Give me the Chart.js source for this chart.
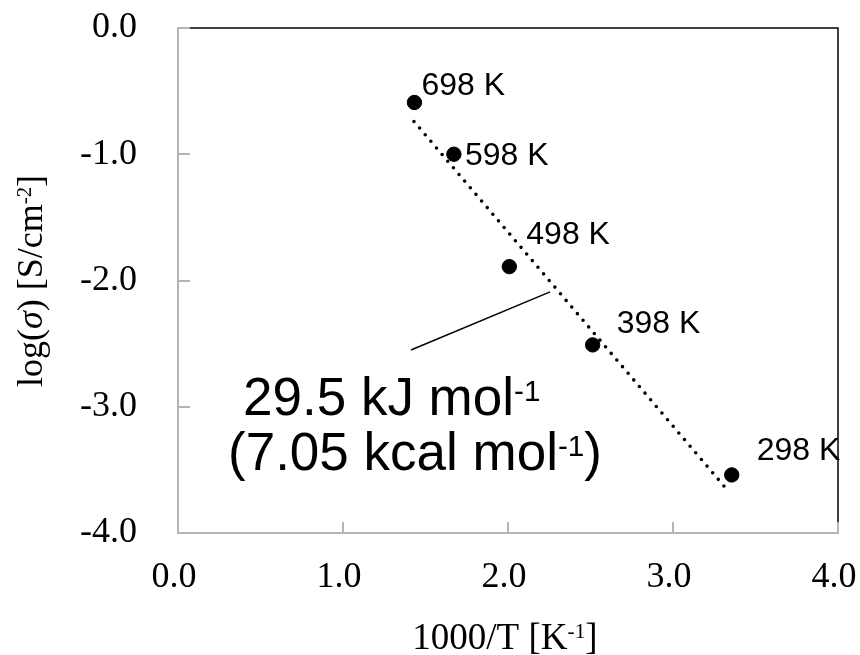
<!DOCTYPE html>
<html>
<head>
<meta charset="utf-8">
<script src="https://cdn.jsdelivr.net/npm/chart.js@4.4.0/dist/chart.umd.min.js"></script>
<style>
  html, body { margin: 0; padding: 0; background: #fff; }
</style>
</head>
<body>
<canvas id="arrheniusChart" width="860" height="655"></canvas>
<script>
// measured temperatures (K)
const temps = [698, 598, 498, 398, 298];
// 1000/T [K^-1]
const invTemp = [1.433, 1.672, 2.008, 2.513, 3.356];
// log(sigma)
const logSigma = [-0.59, -1.00, -1.89, -2.51, -3.54];
// dotted fit line, ends as drawn
const fitX = [1.43, 3.32];
const fitY = [-0.74, -3.645];
// thin pointer from the energy label to the fit line
const pointerX = [1.412, 2.255];
const pointerY = [-2.55, -2.09];
const xTicks = [0, 1, 2, 3, 4];
const yTicks = [0, -1, -2, -3, -4];

const pointLabels = temps.map(t => t + ' K');
// label position relative to its point, px (left, baseline)
const labelOffsets = [[7, -7], [11, 11], [17, -23], [24, -12], [25, -15]];

const SERIF = '"Liberation Serif", "Times New Roman", serif';
const SANS = '"Liberation Sans", Arial, sans-serif';
const AXIS_GRAY = '#b4b4b4';

// draw text made of parts, some of them superscript; returns width
function richText(ctx, parts, x, y, size, family, measureOnly, supScale, supRise) {
    supScale = supScale || 0.58;
    supRise = supRise || 0.3;
    let w = 0;
    parts.forEach(p => {
        const s = p.sup ? size * supScale : size;
        ctx.font = (p.italic ? 'italic ' : '') + s + 'px ' + family;
        if (!measureOnly) ctx.fillText(p.t, x + w, p.sup ? y - size * supRise : y);
        w += ctx.measureText(p.t).width;
    });
    return w;
}

const textPlugin = {
    id: 'textPlugin',
    beforeDatasetsDraw(chart) {
        const { ctx, chartArea: a, scales } = chart;
        ctx.save();
        // black frame on top and right
        ctx.strokeStyle = '#000';
        ctx.lineWidth = 1.5;
        ctx.beginPath();
        ctx.moveTo(a.left, a.top);
        ctx.lineTo(a.right, a.top);
        ctx.lineTo(a.right, a.bottom);
        ctx.stroke();
        // inward gray tick marks
        ctx.strokeStyle = AXIS_GRAY;
        ctx.lineWidth = 2;
        ctx.beginPath();
        yTicks.slice(0, 4).forEach(v => {
            const py = Math.round(scales.y.getPixelForValue(v));
            ctx.moveTo(a.left, py);
            ctx.lineTo(a.left + 12, py);
        });
        xTicks.slice(1).forEach(v => {
            const px = Math.round(scales.x.getPixelForValue(v));
            ctx.moveTo(px, a.bottom);
            ctx.lineTo(px, a.bottom - 11);
        });
        ctx.stroke();
        ctx.restore();
    },
    afterDraw(chart) {
        const { ctx, scales } = chart;
        ctx.save();
        ctx.fillStyle = '#000';
        ctx.textBaseline = 'alphabetic';
        ctx.textAlign = 'left';

        // point labels
        ctx.font = '32px ' + SANS;
        pointLabels.forEach((lbl, i) => {
            const px = scales.x.getPixelForValue(invTemp[i]);
            const py = scales.y.getPixelForValue(logSigma[i]);
            ctx.fillText(lbl, px + labelOffsets[i][0], py + labelOffsets[i][1]);
        });

        // activation energy note
        richText(ctx, [{ t: '29.5 kJ mol' }, { t: '-1', sup: true }], 243, 415, 53, SANS, false, 0.56, 0.27);
        richText(ctx, [{ t: '(7.05 kcal mol' }, { t: '-1', sup: true }, { t: ')' }], 228, 470, 53, SANS, false, 0.56, 0.27);

        // x axis title
        const xt = [{ t: '1000/T [K' }, { t: '-1', sup: true }, { t: ']' }];
        const xw = richText(ctx, xt, 0, 0, 37, SERIF, true);
        richText(ctx, xt, 505 - xw / 2, 649, 37, SERIF);

        // y axis title, rotated
        const yt = [{ t: 'log(' }, { t: 'σ', italic: true }, { t: ') [S/cm' }, { t: '-2', sup: true }, { t: ']' }];
        const yw = richText(ctx, yt, 0, 0, 36, SERIF, true);
        ctx.translate(42, 281);
        ctx.rotate(-Math.PI / 2);
        richText(ctx, yt, -yw / 2, 0, 36, SERIF);
        ctx.restore();
    }
};

new Chart(document.getElementById('arrheniusChart').getContext('2d'), {
    type: 'scatter',
    data: {
        datasets: [{
            label: 'conductivity',
            data: invTemp.map((x, i) => ({ x: x, y: logSigma[i] })),
            backgroundColor: '#000',
            borderColor: '#000',
            pointRadius: 7.2,
            pointHoverRadius: 7.2,
            order: 0
        }, {
            label: 'fit',
            data: fitX.map((x, i) => ({ x: x, y: fitY[i] })),
            showLine: true,
            borderColor: '#000',
            borderWidth: 3.6,
            borderDash: [0, 8.7],
            borderCapStyle: 'round',
            pointRadius: 0,
            order: 1
        }, {
            label: 'pointer',
            data: pointerX.map((x, i) => ({ x: x, y: pointerY[i] })),
            showLine: true,
            borderColor: '#000',
            borderWidth: 1.5,
            pointRadius: 0,
            order: 2
        }]
    },
    options: {
        responsive: false,
        animation: false,
        devicePixelRatio: 1,
        layout: { padding: { left: 0, right: 22, top: 28, bottom: 0 } },
        plugins: { legend: { display: false }, tooltip: { enabled: false } },
        scales: {
            x: {
                type: 'linear',
                min: 0,
                max: 4,
                afterBuildTicks: s => { s.ticks = xTicks.map(v => ({ value: v })); },
                ticks: {
                    callback: v => v.toFixed(1),
                    font: { family: SERIF, size: 36 },
                    color: '#000',
                    padding: 23,
                    labelOffset: -4,
                    maxRotation: 0,
                    autoSkip: false
                },
                grid: { display: false, drawTicks: false },
                border: { display: true, color: AXIS_GRAY, width: 2 },
                afterFit: s => { s.height = 122; s.paddingLeft = 0; s.paddingRight = 0; }
            },
            y: {
                type: 'linear',
                min: -4,
                max: 0,
                afterBuildTicks: s => { s.ticks = yTicks.map(v => ({ value: v })); },
                ticks: {
                    callback: v => v.toFixed(1),
                    font: { family: SERIF, size: 36 },
                    color: '#000',
                    padding: 41,
                    autoSkip: false
                },
                grid: { display: false, drawTicks: false },
                border: { display: true, color: AXIS_GRAY, width: 2 },
                afterFit: s => { s.width = 178; s.paddingTop = 0; s.paddingBottom = 0; }
            }
        }
    },
    plugins: [textPlugin]
});
</script>
</body>
</html>
